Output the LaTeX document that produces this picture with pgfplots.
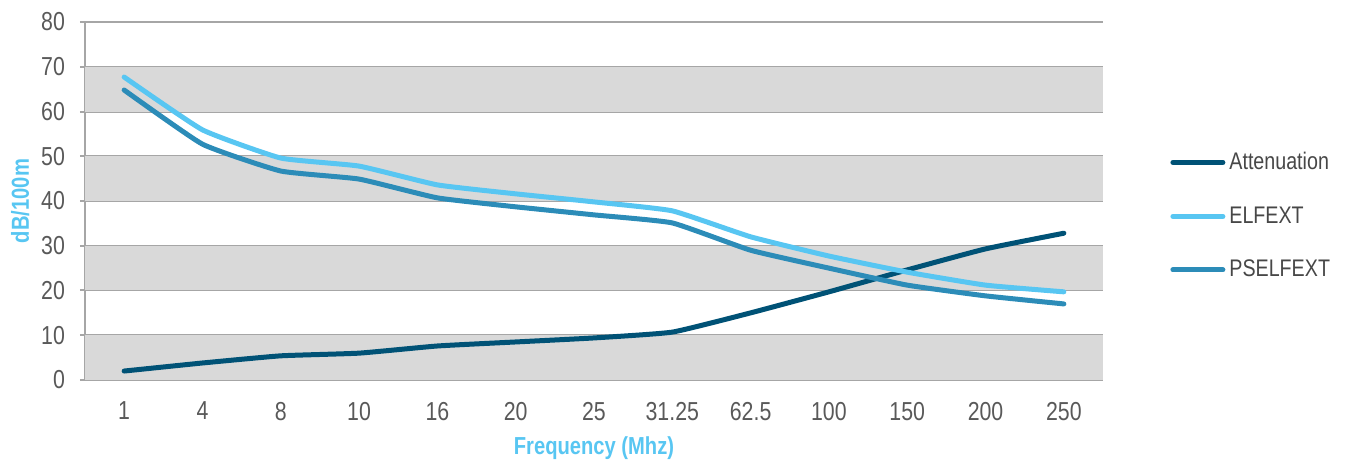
\documentclass[border=0pt]{standalone}
\usepackage{fontspec}
\setmainfont{Liberation Sans}[FakeStretch=0.82]
\usepackage{pgfplots}
\pgfplotsset{compat=1.18}
\definecolor{atten}{RGB}{0,82,118}
\definecolor{elfext}{RGB}{88,198,242}
\definecolor{pself}{RGB}{44,140,184}
\definecolor{gridgray}{RGB}{166,166,166}
\definecolor{band}{RGB}{217,217,217}
\definecolor{ticktext}{RGB}{89,89,89}

\begin{document}
\begin{tikzpicture}
\begin{axis}[
  set layers,
  at={(0,0)}, anchor=south west,
  scale only axis,
  width=509pt, height=179pt,
  xmin=-0.5, xmax=12.5,
  ymin=0, ymax=80,
  xtick={0,...,12},
  xticklabels={1,4,8,10,16,20,25,31.25,62.5,100,150,200,250},
  ytick={0,10,...,80},
  /pgf/number format/assume math mode=true,
  ticklabel style={font=\fontsize{13}{15}\selectfont, text=ticktext},
  xtick style={draw=none},
  ytick style={draw=gridgray, line width=1pt},
  tick align=outside,
  major tick length=5pt,
  xticklabel style={yshift=-5pt},
  yticklabel style={xshift=-4pt},
  axis lines=left,
  axis line style={draw=gridgray, line width=1pt, -},
  ymajorgrids,
  grid style={draw=gridgray, line width=1pt},
  xlabel={\bfseries Frequency (Mhz)},
  ylabel={\bfseries dB/100m},
  label style={font=\fontsize{12.3}{14}\selectfont, text=elfext},
  xlabel style={yshift=-1pt},
  ylabel style={yshift=-1pt},
  legend style={draw=none, fill=none, at={(1,0.458)}, anchor=west,
    xshift=30.5pt, row sep=13pt,
    font=\fontsize{12}{14}\selectfont, text=ticktext!80!black},
  legend cell align=left,
  legend image code/.code={\draw[#1, line width=2.5pt, line cap=round] (0pt,0pt) -- (25pt,0pt);},
  every axis plot/.append style={line width=2.5pt, line cap=round, line join=round, smooth, tension=0.25},
]
\addplot[forget plot, fill=band, draw=none, sharp plot] coordinates {(-0.5,0) (12.5,0) (12.5,10) (-0.5,10)} -- cycle;
\addplot[forget plot, fill=band, draw=none, sharp plot] coordinates {(-0.5,20) (12.5,20) (12.5,30) (-0.5,30)} -- cycle;
\addplot[forget plot, fill=band, draw=none, sharp plot] coordinates {(-0.5,40) (12.5,40) (12.5,50) (-0.5,50)} -- cycle;
\addplot[forget plot, fill=band, draw=none, sharp plot] coordinates {(-0.5,60) (12.5,60) (12.5,70) (-0.5,70)} -- cycle;

\addplot[atten] coordinates {
 (0,2.0) (1,3.8) (2,5.4) (3,6.0) (4,7.6) (5,8.5) (6,9.4)
 (7,10.7) (8,15.0) (9,19.7) (10,24.6) (11,29.3) (12,32.8)
};
\addplot[elfext] coordinates {
 (0,67.7) (1,55.9) (2,49.6) (3,47.8) (4,43.6) (5,41.6) (6,39.8)
 (7,37.8) (8,32.0) (9,27.7) (10,24.1) (11,21.2) (12,19.7)
};
\addplot[pself] coordinates {
 (0,64.8) (1,52.7) (2,46.7) (3,44.9) (4,40.7) (5,38.7) (6,36.9)
 (7,35.1) (8,29.0) (9,25.0) (10,21.2) (11,18.8) (12,17.0)
};
\legend{Attenuation, ELFEXT, PSELFEXT}
\end{axis}
\pgfresetboundingbox
\useasboundingbox (-42.5pt,-40pt) rectangle (630.5pt,190pt);
\end{tikzpicture}
\end{document}
